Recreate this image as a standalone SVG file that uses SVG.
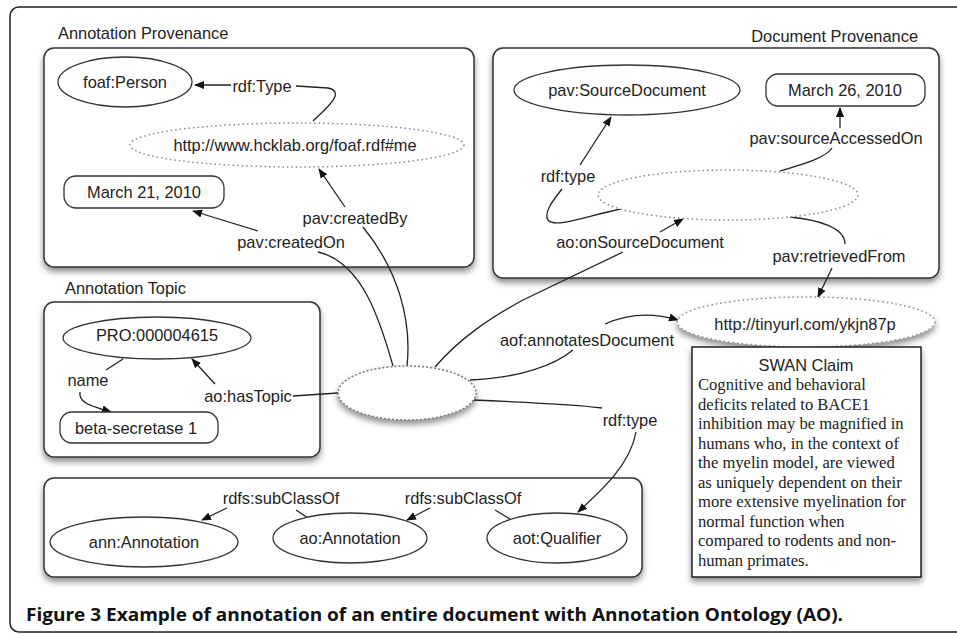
<svg xmlns="http://www.w3.org/2000/svg" width="957" height="634" viewBox="0 0 957 634">
<defs>
<filter id="sh" x="-10%" y="-10%" width="120%" height="130%">
<feDropShadow dx="0" dy="4" stdDeviation="3" flood-color="#000" flood-opacity="0.45"/>
</filter>
<marker id="ah" viewBox="0 0 10 10" refX="9" refY="5" markerWidth="10" markerHeight="10" markerUnits="userSpaceOnUse" orient="auto">
<path d="M0,1 L10,5 L0,9 z" fill="#111"/>
</marker>
<style>
.box{fill:#fff;stroke:#333;stroke-width:1.5}
.nd{fill:#fff;stroke:#333;stroke-width:1.3}
.dot{fill:#fff;stroke:#888;stroke-width:1.5;stroke-dasharray:1.5 3}
.dash{fill:#fff;stroke:#777;stroke-width:1.5;stroke-dasharray:2 2}
.t{font-family:"Liberation Sans",Arial,sans-serif;font-size:16.4px;fill:#222}
.c{text-anchor:middle;dominant-baseline:central}
.s{font-family:"Liberation Serif","Times New Roman",serif;font-size:16.6px;fill:#222}
.e{fill:none;stroke:#222;stroke-width:1.3}
.a{fill:none;stroke:#222;stroke-width:1.3;marker-end:url(#ah)}
.cap{font-family:"Open Sans","DejaVu Sans",sans-serif;font-weight:bold;font-size:17px;fill:#111}
</style>
</defs>
<rect x="0" y="0" width="957" height="634" fill="#fff"/>
<rect x="10" y="7" width="970" height="625" rx="9" fill="#fff" stroke="#222" stroke-width="1.5"/>

<g id="annotation-provenance">
<text class="t" x="58" y="39">Annotation Provenance</text>
<rect class="box" x="44" y="48" width="430" height="219" rx="10" filter="url(#sh)"/>
</g>
<g id="document-provenance">
<text class="t" x="918" y="42" text-anchor="end">Document Provenance</text>
<rect class="box" x="493" y="48" width="446" height="230" rx="10" filter="url(#sh)"/>
</g>
<g id="annotation-topic">
<text class="t" x="65" y="294">Annotation Topic</text>
<rect class="box" x="44" y="302" width="276" height="155" rx="10" filter="url(#sh)"/>
</g>
<g id="class-box">
<rect class="box" x="44" y="478" width="598" height="99" rx="10" filter="url(#sh)"/>
</g>

<g id="connectors">
<path class="e" d="M313,121 C322,112 348,92 328,88 L296,86"/>
<path class="a" d="M231,85 L195,85"/>
<path class="e" d="M393,366 C380,320 362,262 318,252"/>
<path class="a" d="M258,231 L193,211"/>
<path class="e" d="M407,366 C412,320 398,270 363,227"/>
<path class="a" d="M345,207 L319,169"/>
<path class="e" d="M435,367 C460,338 490,318 523,300 L623,252"/>
<path class="a" d="M660,232 L683,219"/>
<path class="e" d="M621,209 C590,215 555,229 548,220 C543,212 555,198 562,189"/>
<path class="a" d="M580,165 L611,117"/>
<path class="e" d="M780,171 C800,165 826,158 832,148"/>
<path class="a" d="M840,128 L840,108"/>
<path class="e" d="M790,217 C820,220 845,228 845,244"/>
<path class="a" d="M832,268 L818,297"/>
<path class="e" d="M470,380 C520,378 555,365 573,350"/>
<path class="a" d="M605,324 C625,315 648,311 678,320"/>
<path class="e" d="M472,400 C520,402 580,405 602,408"/>
<path class="a" d="M636,432 C630,465 602,490 578,512"/>
<path class="e" d="M338,393 L293,396"/>
<path class="a" d="M215,384 L192,359"/>
<path class="e" d="M123,359 L106,370"/>
<path class="a" d="M80,392 C78,403 92,406 111,412"/>
<path class="a" d="M227,508 L202,520"/>
<path class="e" d="M296,510 L308,518"/>
<path class="a" d="M430,508 L407,520"/>
<path class="e" d="M495,510 L510,519"/>
</g>

<g id="labels">
<text class="t c" x="262" y="86">rdf:Type</text>
<text class="t c" x="291" y="242">pav:createdOn</text>
<text class="t c" x="355" y="218">pav:createdBy</text>
<text class="t c" x="640" y="242">ao:onSourceDocument</text>
<text class="t c" x="568" y="176">rdf:type</text>
<text class="t c" x="836" y="138">pav:sourceAccessedOn</text>
<text class="t c" x="839" y="256">pav:retrievedFrom</text>
<text class="t c" x="587" y="340">aof:annotatesDocument</text>
<text class="t c" x="630" y="420">rdf:type</text>
<text class="t c" x="248" y="396">ao:hasTopic</text>
<text class="t c" x="88" y="380">name</text>
<text class="t c" x="281" y="498">rdfs:subClassOf</text>
<text class="t c" x="463" y="498">rdfs:subClassOf</text>
</g>

<g id="foaf-person">
<ellipse class="nd" cx="125" cy="82" rx="67" ry="25"/>
<text class="t c" x="125" y="82">foaf:Person</text>
</g>
<g id="hcklab">
<ellipse class="dot" cx="297" cy="145" rx="167" ry="22"/>
<text class="t c" x="295" y="145">http://www.hcklab.org/foaf.rdf#me</text>
</g>
<g id="march21">
<rect class="nd" x="64" y="176" width="160" height="32" rx="12"/>
<text class="t c" x="144" y="192">March 21, 2010</text>
</g>
<g id="source-document">
<ellipse class="nd" cx="627" cy="90" rx="113" ry="25"/>
<text class="t c" x="627" y="90">pav:SourceDocument</text>
</g>
<g id="march26">
<rect class="nd" x="766" y="74" width="159" height="32" rx="12"/>
<text class="t c" x="845" y="90">March 26, 2010</text>
</g>
<g id="doc-blank">
<ellipse class="dot" cx="728" cy="195" rx="130" ry="25"/>
</g>
<g id="tinyurl">
<ellipse class="dot" cx="806" cy="322" rx="129" ry="25" filter="url(#sh)"/>
<text class="t c" x="805" y="324">http://tinyurl.com/ykjn87p</text>
</g>
<g id="annotation-blank">
<ellipse class="dash" cx="407" cy="393" rx="69" ry="27" filter="url(#sh)"/>
</g>
<g id="pro">
<ellipse class="nd" cx="157" cy="338" rx="94" ry="21"/>
<text class="t c" x="157" y="335">PRO:000004615</text>
</g>
<g id="beta-secretase">
<rect class="nd" x="60" y="412" width="158" height="31" rx="12"/>
<text class="t c" x="136" y="428">beta-secretase 1</text>
</g>
<g id="ann-annotation">
<ellipse class="nd" cx="144" cy="542" rx="94" ry="25"/>
<text class="t c" x="144" y="542">ann:Annotation</text>
</g>
<g id="ao-annotation">
<ellipse class="nd" cx="350" cy="538" rx="77" ry="25"/>
<text class="t c" x="350" y="538">ao:Annotation</text>
</g>
<g id="aot-qualifier">
<ellipse class="nd" cx="557" cy="538" rx="70" ry="25"/>
<text class="t c" x="557" y="538">aot:Qualifier</text>
</g>
<g id="swan-claim">
<rect x="692" y="347" width="229" height="230" fill="#fff" stroke="#222" stroke-width="1.5" filter="url(#sh)"/>
<text class="t c" x="806" y="365">SWAN Claim</text>
<text class="s" x="698">
<tspan x="698" y="390">Cognitive and behavioral</tspan>
<tspan x="698" y="409.5">deficits related to BACE1</tspan>
<tspan x="698" y="429">inhibition may be magnified in</tspan>
<tspan x="698" y="448.5">humans who, in the context of</tspan>
<tspan x="698" y="468">the myelin model, are viewed</tspan>
<tspan x="698" y="487.5">as uniquely dependent on their</tspan>
<tspan x="698" y="507">more extensive myelination for</tspan>
<tspan x="698" y="526.5">normal function when</tspan>
<tspan x="698" y="546">compared to rodents and non-</tspan>
<tspan x="698" y="565.5">human primates.</tspan>
</text>
</g>
<text class="cap" x="26" y="621" textLength="817" lengthAdjust="spacingAndGlyphs">Figure 3 Example of annotation of an entire document with Annotation Ontology (AO).</text>
</svg>
